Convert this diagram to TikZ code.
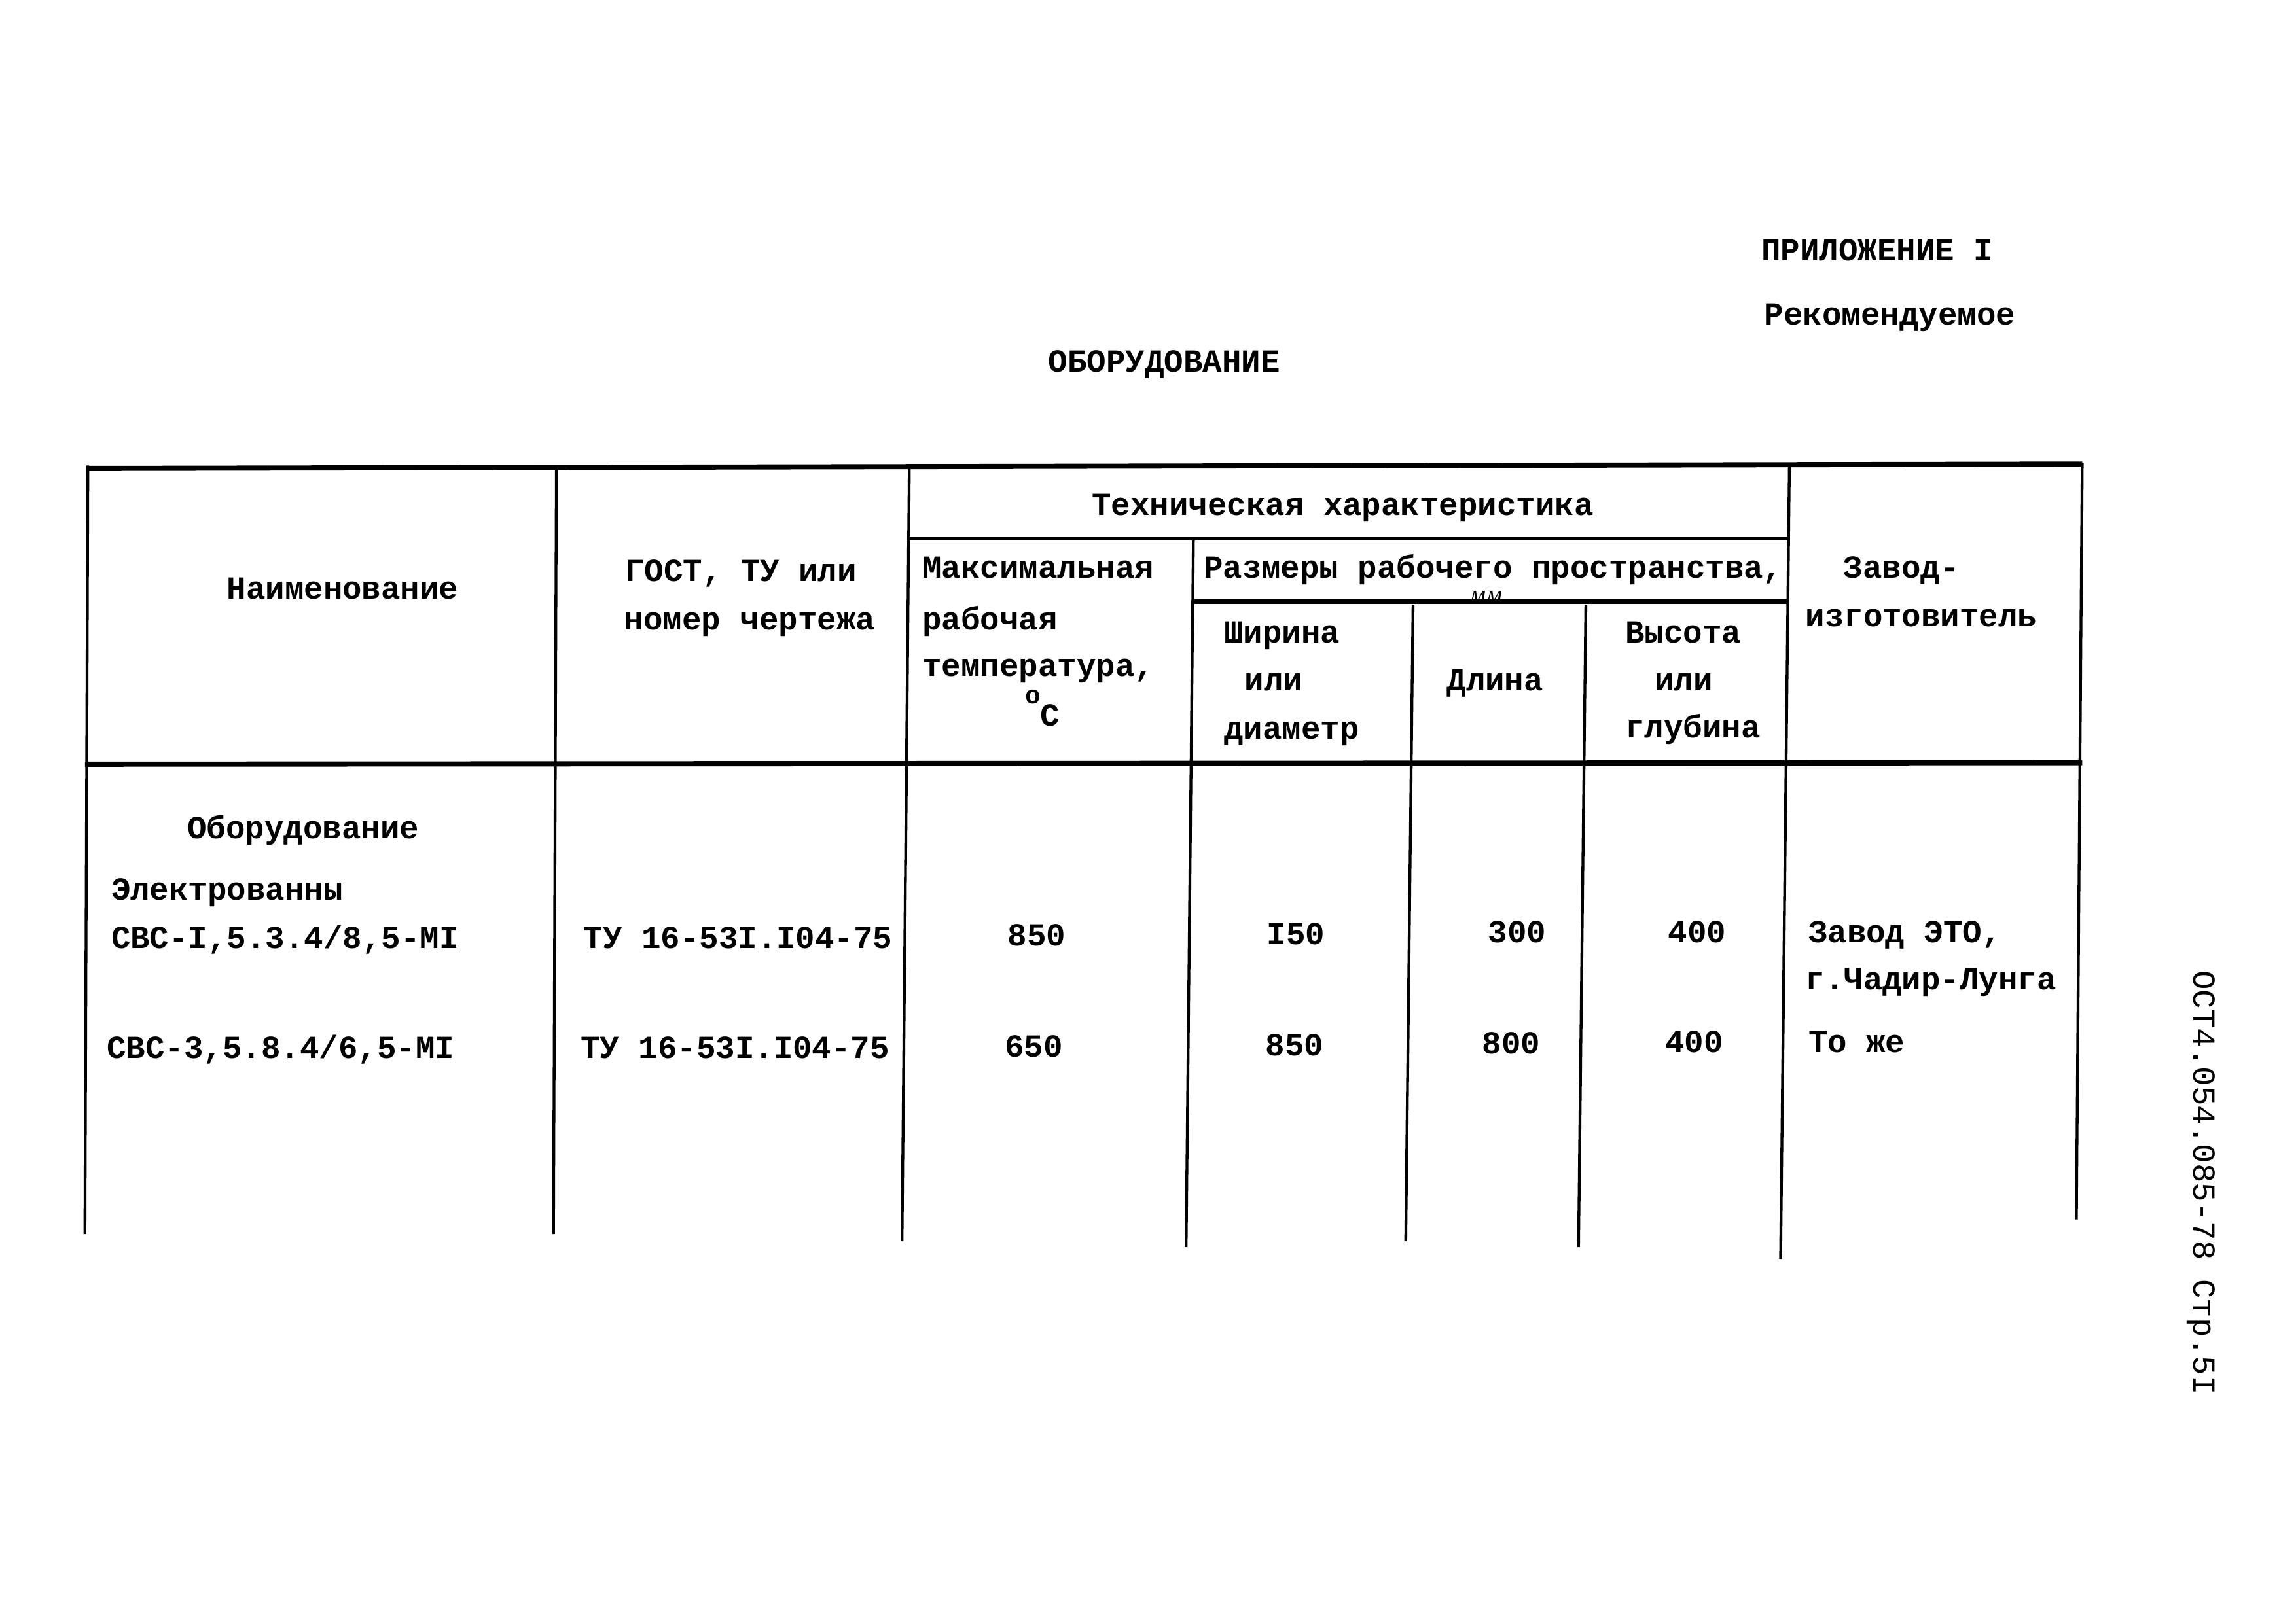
\documentclass[tikz,border=0pt]{standalone}
\usepackage{fontspec}
\setmainfont{Liberation Mono}
\newfontfamily\handfont{Liberation Serif}
\begin{document}
\begin{tikzpicture}[x=0.02cm,y=-0.02cm,
  every node/.style={inner sep=0pt, outer sep=0pt, font=\fontsize{12.5}{18.8}\selectfont\bfseries},
  lt/.style={anchor=base west},
  ct/.style={anchor=base},
  thinrule/.style={line width=1.1pt},
  midrule/.style={line width=1.6pt},
  thickrule/.style={line width=2pt}]
\useasboundingbox (0,0) rectangle (1568,1109);
\fill[white] (0,0) rectangle (1568,1109);

% titles
\node[lt] (app) at (1203,178) {ПРИЛОЖЕНИЕ I};
\node[lt] (rec) at (1205,222) {Рекомендуемое};
\node[ct] (title) at (795,254) {ОБОРУДОВАНИЕ};

% table rules
\draw[thickrule] (60,320) -- (1422,317);
\draw[thickrule] (58,522) -- (1422,521);
\draw[thinrule] (60,318) -- (58,843);
\draw[thinrule] (380,318) -- (378,843);
\draw[thinrule] (621,318) -- (616,848);
\draw[thinrule] (1222,318) -- (1216,860);
\draw[thinrule] (1422,316) -- (1418,833);
\draw[midrule] (621,368) -- (1222,368);
\draw[thinrule] (815,368) -- (810,852);
\draw[midrule] (815,411) -- (1222,411);
\draw[thinrule] (965,413) -- (960,848);
\draw[thinrule] (1083,413) -- (1078,852);

% header
\node[ct] (name) at (234,409) {Наименование};
\node[ct] (gost1) at (506,397) {ГОСТ, ТУ или};
\node[ct] (gost2) at (512,430) {номер чертежа};
\node[ct] (tech) at (917,352) {Техническая характеристика};
\node[lt] (max1) at (630,395) {Максимальная};
\node[lt] (max2) at (630,430) {рабочая};
\node[lt] (max3) at (630,462) {температура,};
\node[ct] (max4) at (712,496) {\raisebox{1.3ex}{\fontsize{10}{10}\selectfont o}C};
\node[lt] (razm) at (822,395) {Размеры рабочего пространства,};
\node (mm) at (1015,408) {\handfont\itshape\mdseries\fontsize{10}{10}\selectfont мм};
\node[lt] (shir1) at (836,439) {Ширина};
\node[lt] (shir2) at (850,472) {или};
\node[lt] (shir3) at (836,505) {диаметр};
\node[ct] (dlina) at (1021,472) {Длина};
\node[lt] (vys1) at (1110,439) {Высота};
\node[lt] (vys2) at (1130,472) {или};
\node[lt] (vys3) at (1110,504) {глубина};
\node[lt] (zav1) at (1259,395) {Завод-};
\node[lt] (zav2) at (1233,428) {изготовитель};

% body
\node[lt] (oborud) at (128,573) {Оборудование};
\node[lt] (elec) at (76,615) {Электрованны};
\node[lt] (svs1) at (76,648) {СВС-I,5.3.4/8,5-МI};
\node[ct] (tu1) at (504,648) {ТУ 16-53I.I04-75};
\node[ct] (t1) at (708,646) {850};
\node[ct] (w1) at (885,645) {I50};
\node[ct] (l1) at (1036,644) {300};
\node[ct] (h1) at (1159,644) {400};
\node[lt] (f1a) at (1235,644) {Завод ЭТО,};
\node[lt] (f1b) at (1233,676) {г.Чадир-Лунга};
\node[lt] (svs2) at (73,723) {СВС-3,5.8.4/6,5-МI};
\node[ct] (tu2) at (502,723) {ТУ 16-53I.I04-75};
\node[ct] (t2) at (706,722) {650};
\node[ct] (w2) at (884,721) {850};
\node[ct] (l2) at (1032,720) {800};
\node[ct] (h2) at (1157,719) {400};
\node[lt] (f2) at (1235,719) {То же};

% margin note
\node[rotate=-90, font=\fontsize{12.5}{15}\selectfont] (ost) at (1503,808) {ОСТ4.054.085-78  Стр.5I};
\end{tikzpicture}
\end{document}
